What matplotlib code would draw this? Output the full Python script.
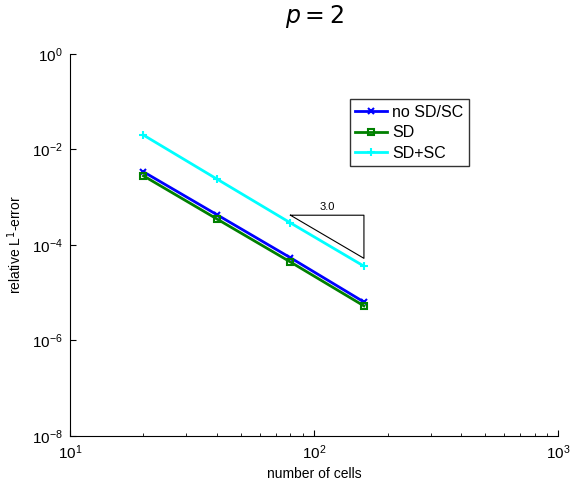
import matplotlib
matplotlib.use("Agg")
import matplotlib.pyplot as plt
import numpy as np
from matplotlib.ticker import LogLocator, NullLocator

plt.rcParams['font.family'] = ['Liberation Sans', 'DejaVu Sans']
plt.rcParams['mathtext.fontset'] = 'dejavusans'

cells = [20, 40, 80, 160]
err_none = [3.4e-3, 4.3e-4, 5.4e-5, 6.4e-6]
err_sd = [2.8e-3, 3.5e-4, 4.4e-5, 5.3e-6]
err_sdsc = [2.0e-2, 2.4e-3, 2.9e-4, 3.6e-5]
labels = ["no SD/SC", "SD", "SD+SC"]

# slope triangle
tri_x = [80, 160]
tri_y0 = 4.2e-4
slope = 3.0

fig = plt.figure(figsize=(5.71, 4.83), dpi=100)
ax = fig.add_axes([0.1226, 0.0973, 0.855, 0.791])

ax.loglog(cells, err_none, color='blue', marker='x', ms=4, mew=1.5, lw=2, label=labels[0])
ax.loglog(cells, err_sd, color='green', marker='s', ms=4, mew=1.5, mfc='none', lw=2, label=labels[1])
ax.loglog(cells, err_sdsc, color='cyan', marker='+', ms=6, mew=1.5, lw=2, label=labels[2])

tri_y1 = tri_y0 * (tri_x[0] / tri_x[1]) ** slope
ax.plot([tri_x[0], tri_x[1], tri_x[1], tri_x[0]], [tri_y0, tri_y0, tri_y1, tri_y0],
        color='black', lw=0.8)
ax.text(np.sqrt(tri_x[0] * tri_x[1]), tri_y0 * 1.15, "%.1f" % slope,
        ha='center', va='bottom', fontsize=8)

ax.set_xlim(10, 1000)
ax.set_ylim(1e-8, 1)
ax.set_xticks([10, 100, 1000])
ax.set_yticks([1e-8, 1e-6, 1e-4, 1e-2, 1])
ax.xaxis.set_minor_locator(LogLocator(base=10, subs=np.arange(2, 10)))
ax.yaxis.set_minor_locator(NullLocator())
ax.tick_params(which='major', direction='in', labelsize=11, length=4, pad=5)
ax.tick_params(which='minor', direction='in', length=2.5)
ax.spines['top'].set_visible(False)
ax.spines['right'].set_visible(False)

ax.set_xlabel("number of cells", fontsize=10, labelpad=4)
ax.set_ylabel("relative L$^1$-error", fontsize=10, labelpad=6)
ax.set_title("$p = 2$", fontsize=17, pad=22)

leg = ax.legend(loc='upper left', bbox_to_anchor=(0.5726, 0.882), borderaxespad=0,
                fontsize=11.5, frameon=True, fancybox=False, edgecolor='black',
                handlelength=2.0, borderpad=0.35, labelspacing=0.35, handletextpad=0.3)
leg.get_frame().set_linewidth(1.0)

fig.savefig("out.png", dpi=100)
